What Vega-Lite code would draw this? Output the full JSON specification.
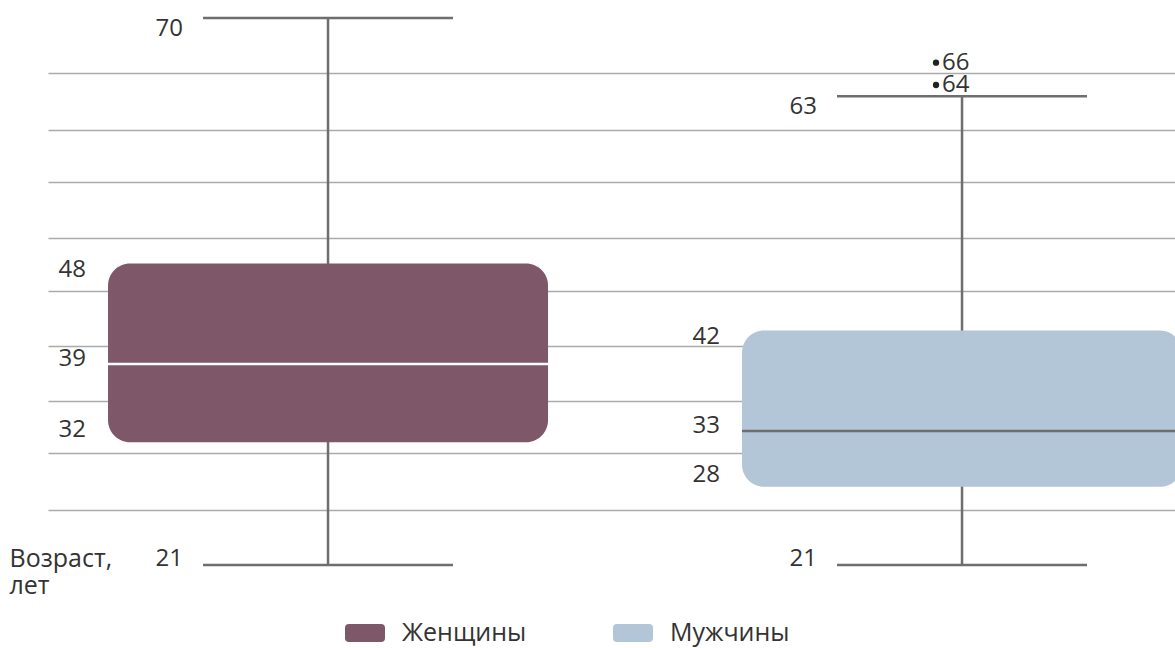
{
  "$schema": "https://vega.github.io/schema/vega-lite/v6.json",
  "autosize": {"type": "none"},
  "width": 1127,
  "height": 648,
  "padding": {"left": 48, "top": 0, "right": 0, "bottom": 0},
  "background": "white",
  "config": {
    "view": {"stroke": null},
    "text": {"font": "Open Sans", "fontSize": 24, "color": "#333333"},
    "tick": {"opacity": 1},
    "legend": {
      "orient": "none",
      "direction": "horizontal",
      "legendX": 297,
      "legendY": 613,
      "title": null,
      "symbolType": "M-0.8,-0.45 L0.8,-0.45 Q1,-0.45 1,-0.25 L1,0.25 Q1,0.45 0.8,0.45 L-0.8,0.45 Q-1,0.45 -1,0.25 L-1,-0.25 Q-1,-0.45 -0.8,-0.45 Z",
      "symbolSize": 1600,
      "symbolStrokeWidth": 0,
      "symbolOpacity": 1,
      "labelFont": "Open Sans",
      "labelFontSize": 25,
      "labelColor": "#333333",
      "labelOffset": 17,
      "columnPadding": 86
    }
  },
  "datasets": {
    "box": [
      {"group": "Женщины", "min": 21, "q1": 32, "median": 39, "q3": 48, "max": 70},
      {"group": "Мужчины", "min": 21, "q1": 28, "median": 33, "q3": 42, "max": 63}
    ],
    "outliers": [
      {"group": "Мужчины", "age": 66},
      {"group": "Мужчины", "age": 64}
    ]
  },
  "data": {"name": "box"},
  "encoding": {
    "x": {
      "field": "group",
      "type": "nominal",
      "scale": {"type": "point", "domain": ["Женщины", "Мужчины"], "padding": 0.3888, "align": 0.568},
      "axis": null
    }
  },
  "layer": [
    {
      "mark": {"type": "rule", "color": "#6e6e6e", "strokeWidth": 2.5},
      "encoding": {
        "y": {
          "field": "min",
          "type": "quantitative",
          "scale": {"domain": [13.565, 71.612], "nice": false, "zero": false},
          "axis": {
            "values": [65.1, 60, 55.3, 50.3, 45.5, 40.6, 35.7, 31, 25.9],
            "grid": true,
            "gridColor": "#aaaaaa",
            "gridWidth": 1.5,
            "domain": false,
            "ticks": false,
            "labels": false,
            "title": ["Возраст,", "лет"],
            "titleAngle": 0,
            "titleAlign": "left",
            "titleBaseline": "alphabetic",
            "titleX": -39,
            "titleY": 566,
            "titleFont": "Open Sans",
            "titleFontSize": 25,
            "titleFontWeight": "normal",
            "titleColor": "#333333",
            "titleLineHeight": 27
          }
        },
        "y2": {"field": "max"}
      }
    },
    {
      "mark": {"type": "tick", "color": "#6e6e6e", "size": 250, "thickness": 2.5, "orient": "horizontal"},
      "encoding": {"y": {"field": "max", "type": "quantitative"}}
    },
    {
      "mark": {"type": "tick", "color": "#6e6e6e", "size": 250, "thickness": 2.5, "orient": "horizontal"},
      "encoding": {"y": {"field": "min", "type": "quantitative"}}
    },
    {
      "mark": {"type": "bar", "width": 440, "cornerRadius": 22},
      "encoding": {
        "y": {"field": "q1", "type": "quantitative"},
        "y2": {"field": "q3"},
        "color": {
          "field": "group",
          "type": "nominal",
          "scale": {"domain": ["Женщины", "Мужчины"], "range": ["#7e5768", "#b3c6d8"]},
          "legend": {}
        }
      }
    },
    {
      "mark": {"type": "tick", "size": 440, "thickness": 2.5, "orient": "horizontal"},
      "encoding": {
        "y": {"field": "median", "type": "quantitative"},
        "color": {"condition": {"test": "datum.group === 'Женщины'", "value": "#ffffff"}, "value": "#6e6e6e"}
      }
    },
    {
      "mark": {"type": "text", "align": "right", "baseline": "middle", "dx": -145, "dy": 11},
      "encoding": {"y": {"field": "max", "type": "quantitative"}, "text": {"field": "max"}}
    },
    {
      "mark": {"type": "text", "align": "right", "baseline": "middle", "dx": -145, "dy": -6},
      "encoding": {"y": {"field": "min", "type": "quantitative"}, "text": {"field": "min"}}
    },
    {
      "mark": {"type": "text", "align": "right", "baseline": "middle", "dx": -242, "dy": 6},
      "encoding": {"y": {"field": "q3", "type": "quantitative"}, "text": {"field": "q3"}}
    },
    {
      "mark": {"type": "text", "align": "right", "baseline": "middle", "dx": -242, "dy": -5},
      "encoding": {"y": {"field": "median", "type": "quantitative"}, "text": {"field": "median"}}
    },
    {
      "mark": {"type": "text", "align": "right", "baseline": "middle", "dx": -242, "dy": -12},
      "encoding": {"y": {"field": "q1", "type": "quantitative"}, "text": {"field": "q1"}}
    },
    {
      "data": {"name": "outliers"},
      "mark": {"type": "point", "filled": true, "color": "#222222", "size": 40, "opacity": 1, "xOffset": -26},
      "encoding": {"y": {"field": "age", "type": "quantitative"}}
    },
    {
      "data": {"name": "outliers"},
      "mark": {"type": "text", "align": "left", "baseline": "middle", "dx": -20},
      "encoding": {"y": {"field": "age", "type": "quantitative"}, "text": {"field": "age"}}
    }
  ]
}
